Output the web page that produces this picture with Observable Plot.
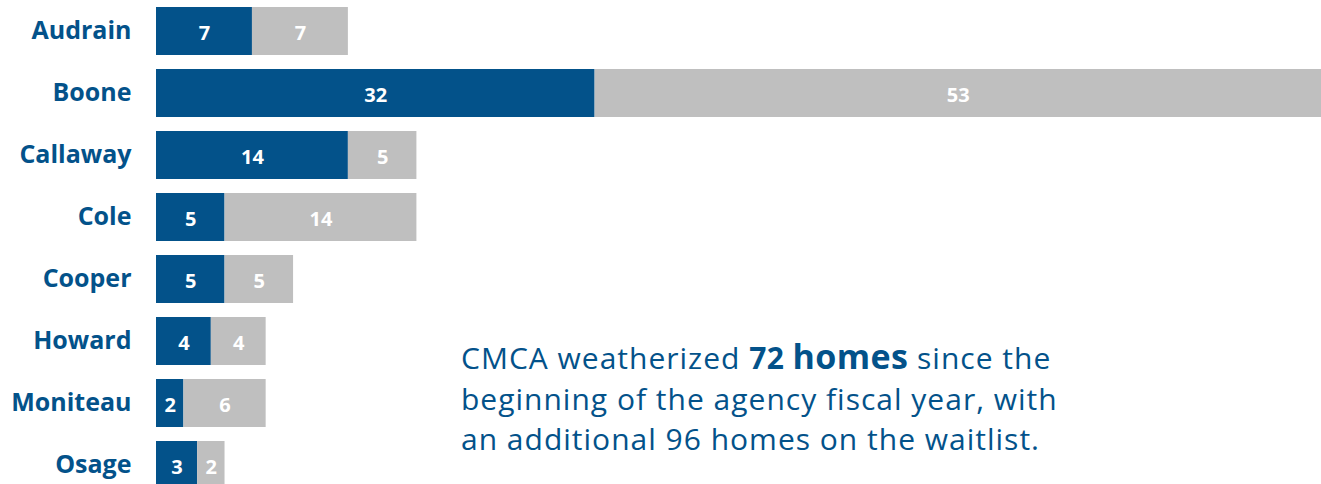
<!DOCTYPE html>
<html>
<head>
<meta charset="utf-8">
<script src="https://cdn.jsdelivr.net/npm/d3@7"></script>
<script src="https://cdn.jsdelivr.net/npm/@observablehq/plot@0.6"></script>
<style>
  html, body { margin: 0; padding: 0; background: #fff; overflow: hidden; }
  #wrap { position: relative; width: 1321px; height: 484px; }
  #note {
    position: absolute; left: 461px; top: 336px; width: 700px;
    font-family: "Open Sans", sans-serif; font-size: 30px; line-height: 40.5px;
    color: #03528a; letter-spacing: 1.0px; white-space: nowrap;
  }
  #note b { font-weight: 700; letter-spacing: 0.4px; }
  #note .big { font-size: 34px; }
</style>
</head>
<body>
<div id="wrap">
  <div id="chart"></div>
  <div id="note">CMCA weatherized <b>72 <span class="big">homes</span></b> since the<br>beginning of the agency fiscal year, with<br>an additional 96 homes on the waitlist.</div>
</div>
<script>
const counties = ["Audrain", "Boone", "Callaway", "Cole", "Cooper", "Howard", "Moniteau", "Osage"];
const weatherized = [7, 32, 14, 5, 5, 4, 2, 3];
const waitlist = [7, 53, 5, 14, 5, 4, 6, 2];
const seriesNames = ["Weatherized", "Waitlist"];
const seriesColors = ["#03528a", "#bfbfbf"];

const rows = [];
counties.forEach((c, i) => {
  rows.push({county: c, series: seriesNames[0], value: weatherized[i]});
  rows.push({county: c, series: seriesNames[1], value: waitlist[i]});
});

const blue = seriesColors[0];
const chart = Plot.plot({
  width: 1321,
  height: 484,
  marginLeft: 156,
  marginRight: 0,
  marginTop: 0,
  marginBottom: 0,
  style: {fontFamily: "'Open Sans', sans-serif", background: "#fff", overflow: "visible"},
  x: {domain: [0, 85], range: [156, 1321], axis: null},
  y: {domain: counties, range: [0, 496], paddingInner: 0.2258, paddingOuter: 0.1129, axis: null},
  color: {domain: seriesNames, range: seriesColors},
  marks: [
    Plot.barX(rows, Plot.stackX({x: "value", y: "county", fill: "series", order: null})),
    Plot.text(rows, Plot.stackX({x: "value", y: "county", z: "series", order: null, text: "value",
      fill: "#fff", fontSize: 20, fontWeight: 700, dy: 2})),
    Plot.text(counties, {x: 0, y: d => d, text: d => d, dx: -25, textAnchor: "end",
      fill: blue, fontSize: 25, fontWeight: 700, dy: -1})
  ]
});
document.getElementById("chart").appendChild(chart);
</script>
</body>
</html>
